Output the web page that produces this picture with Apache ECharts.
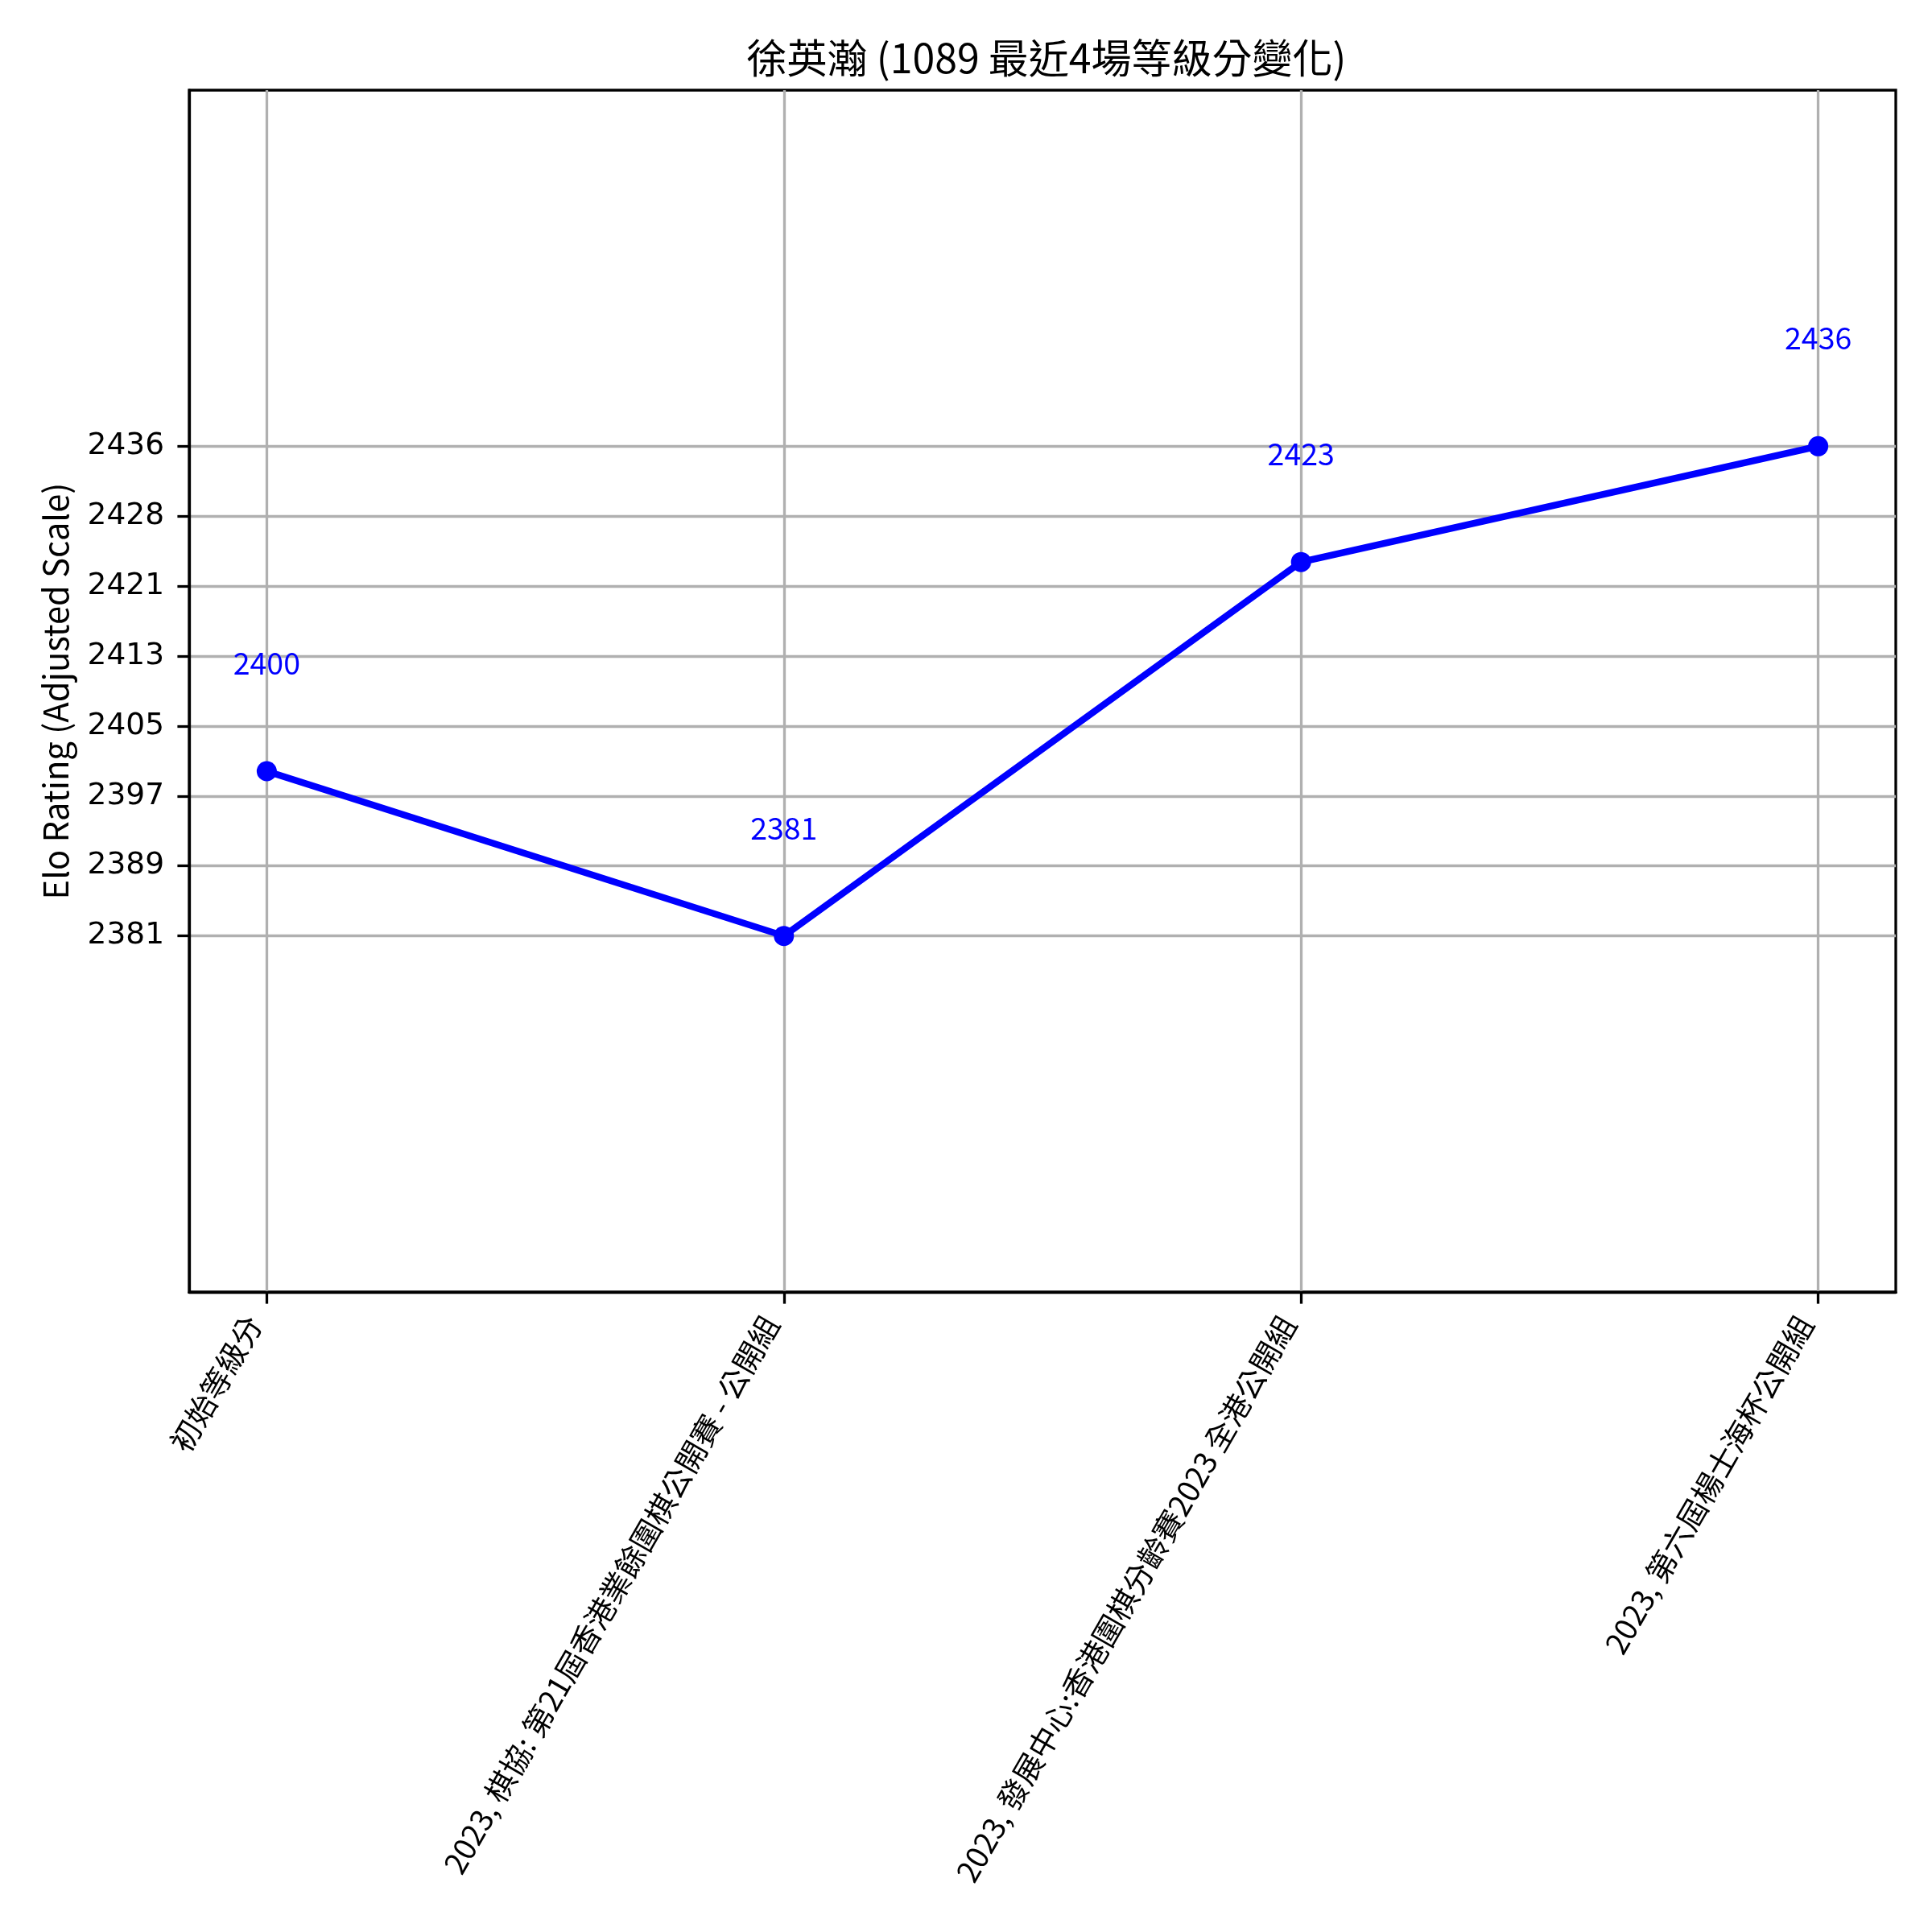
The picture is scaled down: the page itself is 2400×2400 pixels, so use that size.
<!DOCTYPE html>
<html>
<head>
<meta charset="utf-8">
<script src="https://cdn.jsdelivr.net/npm/echarts@6/dist/echarts.min.js"></script>
<style>html,body{margin:0;padding:0;background:#fff}#c{width:2400px;height:2400px}</style>
</head>
<body>
<div id="c"></div>
<script>
const titleText = '徐英瀚 (1089 最近4場等級分變化)';
const yAxisName = 'Elo Rating (Adjusted Scale)';
const categories = ['初始等級分', '2023, 棋協: 第21屆香港業餘圍棋公開賽 - 公開組', '2023, 發展中心:香港圍棋分齡賽2023 全港公開組', '2023, 第六屆楊士海杯公開組'];
const ratings = [2399.8, 2381.3, 2423.3, 2436.3];
const pointLabels = ['2400', '2381', '2423', '2436'];
const yTickValues = [2381.3, 2389.16, 2397.01, 2404.87, 2412.73, 2420.59, 2428.44, 2436.3];
const yTickLabels = ['2381', '2389', '2397', '2405', '2413', '2421', '2428', '2436'];
const xTickValues = [0, 1, 2, 3];
const yMin = 2341.3, yMax = 2476.3;
const xMin = -0.15, xMax = 3.15;

const chart = echarts.init(document.getElementById('c'), null, {renderer: 'canvas'});
const cjk = '"Noto Sans CJK TC", "Noto Sans CJK SC", sans-serif';
function nearestIdx(arr, v) {
  let b = 0;
  for (let i = 1; i < arr.length; i++) if (Math.abs(arr[i] - v) < Math.abs(arr[b] - v)) b = i;
  return b;
}
chart.setOption({
  animation: false,
  backgroundColor: '#ffffff',
  title: {
    text: titleText, left: 1295, top: 42, textAlign: 'center',
    textStyle: {fontFamily: cjk, fontSize: 50, fontWeight: 'normal', color: '#000'}
  },
  grid: {left: 235, top: 112, width: 2120, height: 1493, containLabel: false, outerBoundsMode: 'none',
    show: true, borderColor: '#000', borderWidth: 3.3, backgroundColor: 'transparent'},
  xAxis: {
    type: 'value', min: xMin, max: xMax,
    axisLine: {show: true, onZero: false, lineStyle: {color: '#000', width: 3.3}},
    axisTick: {show: true, inside: false, length: 14.6, customValues: xTickValues, lineStyle: {color: '#000', width: 3.3}},
    splitLine: {show: true, lineStyle: {color: '#b0b0b0', width: 3.3}},
    axisLabel: {
      customValues: xTickValues, rotate: 60, margin: 42, verticalAlign: 'bottom', align: 'right',
      fontFamily: cjk, fontSize: 37.5, color: '#000',
      formatter: v => categories[Math.round(v)]
    }
  },
  yAxis: {
    type: 'value', min: yMin, max: yMax,
    name: yAxisName, nameLocation: 'middle', nameGap: 145, nameRotate: 90,
    nameTextStyle: {fontFamily: cjk, fontSize: 41.7, color: '#000'},
    axisLine: {show: true, onZero: false, lineStyle: {color: '#000', width: 3.3}},
    axisTick: {show: true, inside: false, length: 14.6, customValues: yTickValues, lineStyle: {color: '#000', width: 3.3}},
    splitLine: {show: true, lineStyle: {color: '#b0b0b0', width: 3.3}},
    axisLabel: {
      customValues: yTickValues, margin: 31, fontFamily: '"DejaVu Sans", sans-serif', fontSize: 37.5, color: '#000',
      formatter: v => yTickLabels[nearestIdx(yTickValues, v)]
    }
  },
  series: [{
    type: 'line',
    data: ratings.map((r, i) => [xTickValues[i], r]),
    lineStyle: {color: '#0000ff', width: 8.3},
    itemStyle: {color: '#0000ff'},
    symbol: 'circle', symbolSize: 25, showSymbol: true,
    label: {
      show: true, position: 'top', distance: 103,
      fontFamily: cjk, fontSize: 37.5, color: '#0000ff',
      formatter: p => pointLabels[p.dataIndex]
    },
    z: 5
  }]
});
</script>
</body>
</html>
